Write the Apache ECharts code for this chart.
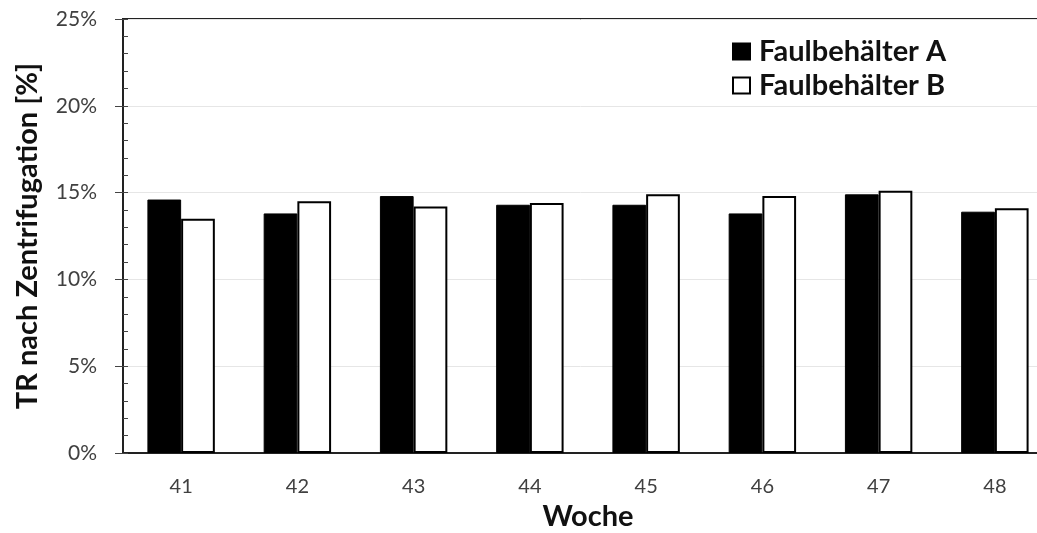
<!DOCTYPE html>
<html><head><meta charset="utf-8">
<script src="https://cdn.jsdelivr.net/npm/echarts@6/dist/echarts.min.js"></script>
<style>html,body{margin:0;padding:0;background:#fff}#c{width:1037px;height:533px}</style>
</head><body><div id="c"></div>
<script>
const weeks = ['41','42','43','44','45','46','47','48'];
const seriesA = [14.6, 13.8, 14.8, 14.3, 14.3, 13.8, 14.9, 13.9];
const seriesB = [13.5, 14.5, 14.2, 14.4, 14.9, 14.8, 15.1, 14.1];
const nameA = 'Faulbehälter A';
const nameB = 'Faulbehälter B';
const FONT = 'Lato, "Open Sans", sans-serif';
const chart = echarts.init(document.getElementById('c'), null, {renderer:'canvas'});
chart.setOption({
  animation: false,
  backgroundColor: '#fff',
  textStyle: {fontFamily: FONT},
  grid: {left: 123, top: 19, width: 930, bottom: 80, outerBoundsMode: 'none', containLabel: false,
         show: true, borderColor: '#222', borderWidth: 2, backgroundColor: 'transparent'},
  legend: {
    top: 32, left: 727, orient: 'vertical', itemGap: 5,
    itemWidth: 17, itemHeight: 16, icon: 'rect',
    textStyle: {fontFamily: FONT, fontSize: 29, fontWeight: 'bold', color: '#111', padding: [0,0,0,4]},
    data: [{name: nameA, itemStyle: {color:'#000', borderColor:'#000', borderWidth: 2}},
           {name: nameB, itemStyle: {color:'#fff', borderColor:'#000', borderWidth: 2}}]
  },
  xAxis: {
    type: 'category', data: weeks,
    name: 'Woche', nameLocation: 'middle', nameGap: 48,
    nameTextStyle: {fontFamily: FONT, fontSize: 29, fontWeight: 'bold', color: '#111'},
    axisLine: {lineStyle: {color: '#222', width: 2}},
    axisTick: {inside: true, length: 8, lineStyle: {color: '#444'}},
    axisLabel: {fontSize: 20, color: '#404040', margin: 24}
  },
  yAxis: [{
    type: 'value', min: 0, max: 25, interval: 5,
    name: 'TR nach Zentrifugation [%]', nameLocation: 'middle', nameGap: 81,
    nameTextStyle: {fontFamily: FONT, fontSize: 29, fontWeight: 'bold', color: '#111'},
    axisLine: {show: true, lineStyle: {color: '#222', width: 2}},
    axisTick: {show: true, length: 8, lineStyle: {color: '#444'}},
    axisLabel: {fontSize: 21, color: '#404040', margin: 26, formatter: '{value}%'},
    splitLine: {show: true, lineStyle: {color: '#e6e6e6', width: 1}}
  }, {
    type: 'value', min: 0, max: 25, interval: 1, position: 'left',
    axisLine: {show: false}, axisLabel: {show: false}, splitLine: {show: false},
    axisTick: {show: true, inside: true, length: 5, lineStyle: {color: '#444'}}
  }],
  series: [
    {name: nameA, type: 'bar', data: seriesA, barGap: '0%', barCategoryGap: '42%',
     itemStyle: {color: '#000', borderColor: '#000', borderWidth: 1}},
    {name: nameB, type: 'bar', data: seriesB,
     itemStyle: {color: '#fff', borderColor: '#000', borderWidth: 2}}
  ]
});
</script></body></html>
